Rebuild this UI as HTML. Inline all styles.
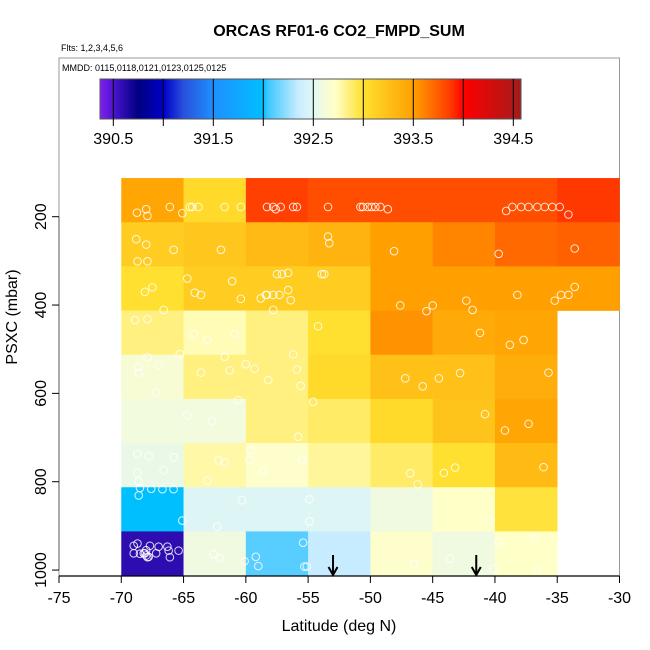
<!DOCTYPE html>
<html><head><meta charset="utf-8"><style>
body{margin:0;background:#fff}
svg{display:block;font-family:"Liberation Sans",sans-serif}
</style></head><body>
<svg id="chart" width="650" height="650" viewBox="0 0 650 650">
<text x="339" y="36" text-anchor="middle" font-size="16" font-weight="bold">ORCAS RF01-6 CO2_FMPD_SUM</text>
<text x="61" y="51" font-size="9">Flts: 1,2,3,4,5,6</text>
<rect x="59" y="58" width="560.5" height="518" fill="none" stroke="#999" stroke-width="1"/>
<text x="62" y="71" font-size="9">MMDD: 0115,0118,0121,0123,0125,0125</text>
<g id="cbar"></g>
<g id="cells"></g>
<g id="pts"></g>
<g id="axes"></g>
<text x="339" y="631" text-anchor="middle" font-size="16">Latitude (deg N)</text>
<text transform="translate(17,317) rotate(-90)" text-anchor="middle" font-size="16">PSXC (mbar)</text>
</svg>
<script>
const latEdges=[-70,-65,-60,-55,-50,-45,-40,-35,-30];
const pEdgeTop=112.5, pStep=100;
const cellValues=[
[393.45,393.05,393.85,393.8,393.8,393.8,393.8,393.88],
[393.15,393.2,393.3,393.35,393.5,393.6,393.7,393.73],
[393.0,393.15,393.15,393.15,393.5,393.5,393.5,393.5],
[392.85,392.75,392.85,393.0,393.55,393.42,393.45,null],
[392.65,392.85,392.85,393.05,393.25,393.25,393.4,null],
[392.6,392.6,392.85,392.9,393.05,393.22,393.45,null],
[392.55,392.78,392.7,392.8,392.9,393.0,393.3,null],
[392.0,392.48,392.48,392.48,392.58,392.72,392.98,null],
[390.6,392.58,392.1,392.35,392.7,392.58,392.72,null]];
const ptLat=[-68.74,-68,-67.9,-66.1,-65.1,-64.5,-64.3,-63.8,-61.7,-60.4,-58.3,-57.8,-57.6,-57.2,-56.2,-55.9,-53.4,-50.8,-50.6,-50.2,-49.9,-49.6,-49.2,-48.6,-39.1,-38.6,-37.9,-37.3,-36.6,-36,-35.4,-34.8,-34.1,
-68.8,-68,-68.7,-67.9,-65.8,-62,-53.4,-53.3,-48.1,-39.7,-33.6,
-64.7,-61.1,-64.1,-63.6,-60.4,-67.5,-68.1,-66.6,-57.5,-57.1,-56.6,-56.6,-56.4,-57.3,-57.8,-58.3,-58.4,-58.8,-57.8,-53.9,-53.7,-47.6,-45.5,-45,-42.3,-41.8,-38.2,-35.2,-34.7,-34.1,-33.6,
-68.9,-67.9,-64.2,-63.1,-60.9,-54.2,-41.2,-38.8,-37.7,
-65.3,-67.9,-68.6,-68.6,-67,-63.6,-61.7,-61.3,-60,-59.3,-58.2,-56.2,-55.9,-55.6,-67.2,-47.2,-45.8,-44.5,-42.8,-35.7,
-64.7,-62.7,-60.6,-55.8,-54.6,-40.8,-39.2,-37.3,
-68.7,-67.8,-65.8,-68.7,-66.6,-68.6,-68.5,-67.6,-66.7,-65.8,-68.6,-62.2,-61.7,-63.1,-59.6,-59.7,-58.6,-55.5,-46.8,-46.2,-44.1,-43.2,-36.1,
-65.1,-62.3,-60.3,-54.9,-54.9,-40.4,
-69,-68.7,-69,-68.5,-68.2,-68,-67.7,-67.8,-67.2,-67,-66.3,-66.2,-66.1,-65.4,-68.1,-68,-67.9,-62.6,-62.1,-60.1,-59.2,-59,-55.4,-55.3,-55.1,-46.5,-43.6,-40.1,-39.7,-36.8,-36.6];
const ptP=[191,183,198,178,192,178,178,178,178,178,178,178,183,178,178,178,178,178,178,178,178,178,178,183,187,178,178,178,178,178,178,178,195,
251,263,301,301,275,275,245,260,278,284,272,
340,346,372,377,386,360,370,411,330,330,327,366,389,377,377,377,377,385,411,330,330,401,414,401,390,411,377,390,377,377,359,
434,432,466,478,466,448,463,490,479,
511,518,540,553,536,553,517,548,534,544,570,512,546,583,598,566,584,566,554,553,
650,663,615,698,619,647,684,669,
737,742,745,780,774,800,814,816,817,817,831,752,756,798,729,751,776,752,781,806,780,768,767,
888,902,842,840,890,887,
945,940,962,963,962,955,945,970,962,947,947,956,971,956,962,967,971,964,973,980,970,991,938,992,992,986,974,997,937,926,998];
const xTicks=[-75,-70,-65,-60,-55,-50,-45,-40,-35,-30];
const yTicks=[200,400,600,800,1000];
const cbTicks=[390.5,391,391.5,392,392.5,393,393.5,394,394.5];
const cbLabels=["390.5","391.5","392.5","393.5","394.5"];
const arrowLats=[-53,-41.5];

const X=l=>59+(l+75)*(560.5/45);
const Y=p=>216.7+(p-200)*0.4417;
const CB=v=>113.3+(v-390.5)*100;
const stops=[[390.37,[128,32,240]],[390.55,[60,16,192]],[390.75,[0,0,128]],[391.0,[0,0,200]],[391.2,[40,80,220]],[391.5,[30,144,255]],[392.0,[0,191,255]],[392.05,[64,200,255]],[392.35,[200,236,255]],[392.5,[224,248,244]],[392.58,[240,250,224]],[392.72,[255,255,200]],[392.85,[255,240,128]],[393.0,[255,224,48]],[393.5,[255,160,0]],[393.88,[255,56,0]],[394.0,[255,0,0]],[394.5,[176,24,24]],[394.6,[160,28,28]]];
function col(v){
  if(v<=stops[0][0])return 'rgb('+stops[0][1]+')';
  for(let i=1;i<stops.length;i++){if(v<=stops[i][0]){const a=stops[i-1],b=stops[i],t=(v-a[0])/(b[0]-a[0]);
    return 'rgb('+a[1].map((c,k)=>Math.round(c+(b[1][k]-c)*t)).join(',')+')';}}
  return 'rgb('+stops[stops.length-1][1]+')';
}
const NS='http://www.w3.org/2000/svg';
function mk(tag,attrs,parent){const e=document.createElementNS(NS,tag);for(const k in attrs)e.setAttribute(k,attrs[k]);parent.appendChild(e);return e;}
// colorbar
const cb=document.getElementById('cbar');
for(let x=100;x<521;x++){const r=mk('rect',{x:x,y:79,width:1.2,height:40,fill:col(390.5+(x+0.5-113.3)/100)},cb);

}
const cbf=mk('rect',{x:100,y:79,width:421,height:40,fill:'none',stroke:'#555','stroke-width':1},cb);


cbTicks.forEach(v=>{const l=mk('line',{x1:CB(v),x2:CB(v),y1:79,y2:126,stroke:'#000','stroke-width':1},cb);

});
cbLabels.forEach(s=>{const t=mk('text',{x:CB(+s),y:144,'text-anchor':'middle','font-size':16},cb);t.textContent=s;

});
// cells
const cg=document.getElementById('cells');
cellValues.forEach((row,ri)=>row.forEach((v,ci)=>{if(v===null)return;
const x0=X(latEdges[ci]),x1=X(latEdges[ci+1]),y0=Y(pEdgeTop+ri*pStep),y1=Y(pEdgeTop+(ri+1)*pStep);
const r=mk('rect',{x:x0,y:y0,width:x1-x0+0.3,height:y1-y0+0.3,fill:col(v)},cg);

}));
// points
const pg=document.getElementById('pts');
ptLat.forEach((l,i)=>{const c=mk('circle',{cx:X(l),cy:Y(ptP[i]),r:3.8,fill:'none',stroke:'#fff','stroke-opacity':0.85,'stroke-width':1},pg);

});
// axes
const ax=document.getElementById('axes');
const xl=mk('line',{x1:X(-75),x2:X(-30),y1:576,y2:576,stroke:'#000','stroke-width':1.2},ax);


xTicks.forEach(v=>{const l=mk('line',{x1:X(v),x2:X(v),y1:576,y2:583,stroke:'#000'},ax);


const t=mk('text',{x:X(v),y:603,'text-anchor':'middle','font-size':16},ax);t.textContent=v;

});
const yl=mk('line',{x1:59,x2:59,y1:Y(200),y2:Y(1000),stroke:'#555','stroke-width':1},ax);


yTicks.forEach(v=>{const l=mk('line',{x1:52,x2:59,y1:Y(v),y2:Y(v),stroke:'#000'},ax);


const t=mk('text',{transform:'translate(46,'+Y(v)+') rotate(-90)','text-anchor':'middle','font-size':16},ax);t.textContent=v;

});
arrowLats.forEach(l=>{const x=X(l);
const a=mk('path',{d:'M'+x+' 555 L'+x+' 575 M'+(x-4.5)+' 567 L'+x+' 575 L'+(x+4.5)+' 567',stroke:'#000','stroke-width':2,fill:'none'},ax);

});
</script>
</body></html>
